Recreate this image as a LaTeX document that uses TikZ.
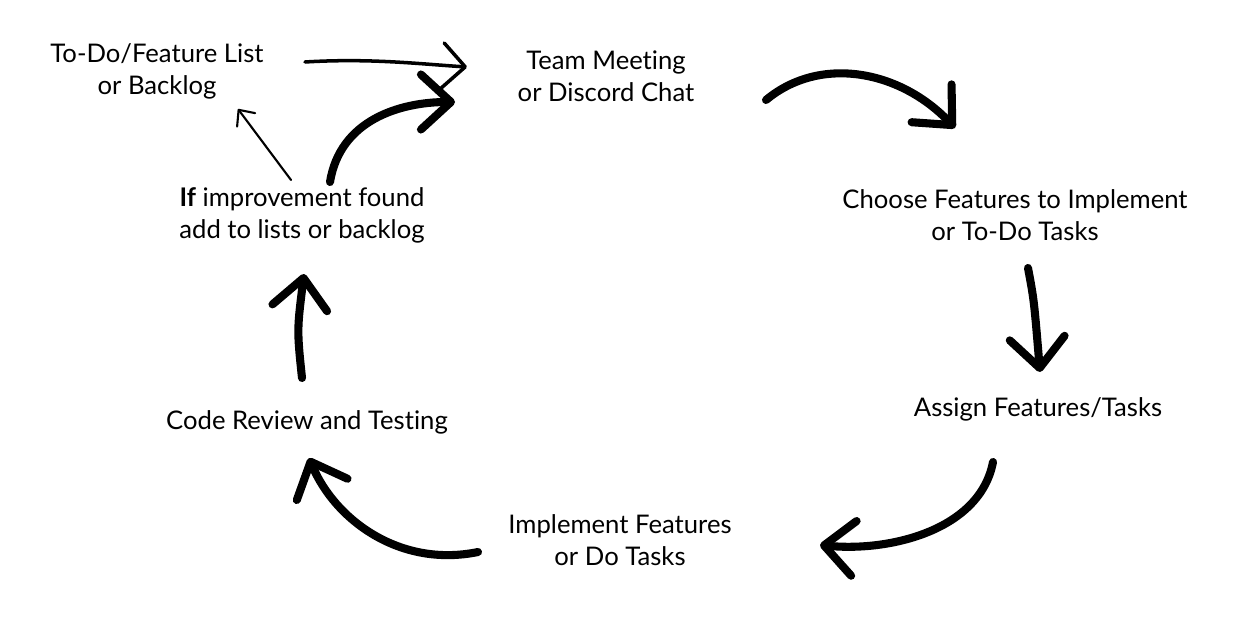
\documentclass[tikz,border=0pt]{standalone}
\usepackage{fontspec}
\setmainfont{Lato}[Ligatures={NoCommon}]
\usetikzlibrary{arrows.meta}
\begin{document}
\begin{tikzpicture}[x=0.02cm,y=-0.02cm,
  lbl/.style={align=center,font=\fontsize{14.6}{18.2}\selectfont,inner sep=0pt},
  thick arr/.style={line width=4.6pt,line cap=round,
    -{Straight Barb[length=0.6cm,width=1.1cm,line width=4.6pt,round]}},
  mid arr/.style={line width=2pt,line cap=round,
    -{Straight Barb[length=0.45cm,width=0.9cm,line width=2pt,round]}},
  thin arr/.style={line width=1.2pt,line cap=round,
    -{Straight Barb[length=0.25cm,width=0.45cm,line width=1.2pt,round]}}]
\useasboundingbox (0,0) rectangle (1244,628);
\fill[white] (0,0) rectangle (1244,628);

\node[lbl] (todo) at (157,71) {To-Do/Feature List\\or Backlog};
\node[lbl] (team) at (606,76) {Team Meeting\\or Discord Chat};
\node[lbl] (choose) at (1015,215) {Choose Features to Implement\\or To-Do Tasks};
\node[lbl] (assign) at (1038,409) {Assign Features/Tasks};
\node[lbl] (impl) at (620,540) {Implement Features\\or Do Tasks};
\node[lbl] (review) at (307,422) {Code Review and Testing};
\node[lbl] (improve) at (302,215) {\textbf{If} improvement found\\add to lists or backlog};

\coordinate (a1s) at (305,62);  \coordinate (a1e) at (467,67);
\coordinate (a2s) at (766,100); \coordinate (a2e) at (955,128);
\coordinate (a3s) at (1028,268);\coordinate (a3e) at (1040,372);
\coordinate (a4s) at (993,462); \coordinate (a4e) at (820,545);
\coordinate (a5s) at (478,552); \coordinate (a5e) at (309,458);
\coordinate (a6s) at (302,378); \coordinate (a6e) at (304,274);
\coordinate (a7s) at (330,182); \coordinate (a7e) at (455,102);
\coordinate (a8s) at (291,180); \coordinate (a8e) at (238,109);

\draw[mid arr] (a1s) .. controls (370,58) and (420,64) .. (a1e);
\draw[thick arr] (a2s) .. controls (820,55) and (900,70) .. (a2e);
\draw[thick arr] (a3s) .. controls (1034,300) .. (a3e);
\draw[thick arr] (a4s) .. controls (980,530) and (890,552) .. (a4e);
\draw[thick arr] (a5s) .. controls (400,568) and (335,520) .. (a5e);
\draw[thick arr] (a6s) .. controls (297,330) .. (a6e);
\draw[thick arr] (a7s) .. controls (340,120) and (400,102) .. (a7e);
\draw[thin arr] (a8s) -- (a8e);
\end{tikzpicture}
\end{document}
